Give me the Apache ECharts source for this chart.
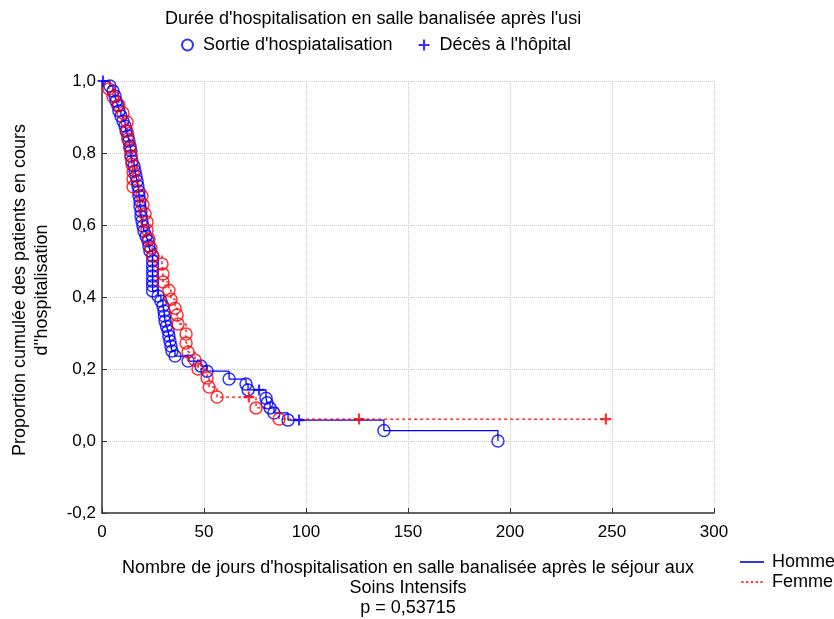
<!DOCTYPE html>
<html>
<head>
<meta charset="utf-8">
<script src="https://cdn.jsdelivr.net/npm/echarts@6/dist/echarts.min.js"></script>
<style>
  html, body { margin: 0; padding: 0; background: #fff; }
  #chart { width: 834px; height: 619px; }
</style>
</head>
<body>
<div id="chart"></div>
<script>
// jours, proportion cumulée
var hommeSorties = [
    [3.9, 0.986], [5.4, 0.972], [6.4, 0.958], [6.9, 0.944], [7.8, 0.931], [8.3, 0.917],
    [9.3, 0.903], [10.3, 0.889], [11.3, 0.875], [11.8, 0.861], [12.7, 0.847], [13.2, 0.833],
    [13.7, 0.819], [14.2, 0.806], [14.2, 0.792], [14.7, 0.778], [15.7, 0.764], [16.2, 0.75],
    [16.7, 0.736], [17.2, 0.722], [17.6, 0.708], [18.1, 0.694], [18.1, 0.681], [18.6, 0.667],
    [18.6, 0.653], [19.1, 0.639], [19.1, 0.625], [19.6, 0.611], [20.1, 0.597], [20.6, 0.583],
    [21.6, 0.569], [22.5, 0.556], [23, 0.542], [23.5, 0.528], [24.8, 0.514], [24.8, 0.5],
    [24.8, 0.486], [24.8, 0.472], [24.8, 0.458], [24.8, 0.444], [24.8, 0.431], [24.8, 0.417],
    [27.5, 0.403], [28.9, 0.389], [29.9, 0.375], [30.4, 0.361], [30.6, 0.347], [30.9, 0.333],
    [31.6, 0.319], [32.4, 0.306], [32.8, 0.292], [33.3, 0.278], [33.8, 0.264], [34.3, 0.25],
    [35.8, 0.236], [42.2, 0.222], [48.5, 0.208], [51.5, 0.194], [62.3, 0.172], [70.6, 0.158],
    [71.6, 0.142], [80.4, 0.119], [80.9, 0.106], [82.4, 0.092], [84.3, 0.078], [91.2, 0.058],
    [138.2, 0.029], [194.1, 0]
];
var hommeDeces = [[0.5, 1.0], [77, 0.142], [96.6, 0.058]];

var femmeSorties = [
    [3.4, 0.978], [5.4, 0.956], [8.3, 0.933], [10.3, 0.911], [12.3, 0.886], [12.3, 0.861],
    [12.7, 0.839], [13.7, 0.814], [14.2, 0.792], [14.7, 0.769], [15.2, 0.747], [15.2, 0.728],
    [15.2, 0.706], [19.6, 0.681], [20.1, 0.656], [21.1, 0.631], [22.1, 0.608], [22.1, 0.586],
    [23, 0.561], [24, 0.536], [25, 0.514], [29.4, 0.492], [29.9, 0.464], [29.9, 0.442],
    [32.8, 0.419], [33.8, 0.394], [35.8, 0.369], [36.8, 0.35], [37.3, 0.325], [41.2, 0.297],
    [41.2, 0.272], [42.2, 0.247], [45.6, 0.225], [47.1, 0.2], [51.5, 0.175], [52.5, 0.15],
    [56.4, 0.122], [75.5, 0.092], [86.8, 0.061]
];
var femmeDeces = [[72, 0.122], [126, 0.061], [247, 0.061]];

var xTicks = [0, 50, 100, 150, 200, 250, 300];
var yTicks = [-0.2, 0, 0.2, 0.4, 0.6, 0.8, 1.0];

var FONT = "'Liberation Sans', Arial, sans-serif";
var BLUE = '#0000ff';
var RED = '#ff0000';
var PLUS = 'path://M4,0H6V4H10V6H6V10H4V6H0V4H4Z';
var SOLID_ICON = 'path://M0,0H30V2H0Z';
var DOTTED_ICON = 'path://M0,0H3V2H0ZM6,0H9V2H6ZM12,0H15V2H12ZM18,0H21V2H18ZM24,0H27V2H24Z';

// step path: start at (0,1), then every event / censored point in time order
function stepLine(events, censored) {
    var pts = events.concat(censored).slice();
    pts.sort(function (a, b) { return a[0] - b[0] || b[1] - a[1]; });
    return [[0, 1]].concat(pts);
}

var chart = echarts.init(document.getElementById('chart'));

chart.setOption({
    animation: false,
    textStyle: { fontFamily: FONT },
    title: {
        text: "Durée d'hospitalisation en salle banalisée après l'usi",
        left: 160,
        top: 5,
        textStyle: { fontFamily: FONT, fontSize: 18, fontWeight: 'normal', color: '#000' }
    },
    legend: [{
        data: ["Sortie d'hospiatalisation", "Décès à l'hôpital"],
        left: 176,
        top: 31,
        itemWidth: 11,
        itemHeight: 11,
        itemGap: 26,
        textStyle: { fontFamily: FONT, fontSize: 18, color: '#000', padding: [0, 0, 0, 5] }
    }, {
        data: [
            { name: 'Homme', icon: SOLID_ICON, itemStyle: { color: BLUE } },
            { name: 'Femme', icon: DOTTED_ICON, itemStyle: { color: RED } }
        ],
        orient: 'vertical',
        left: 735,
        top: 548,
        itemWidth: 30,
        itemHeight: 1.6,
        itemGap: 2,
        textStyle: { fontFamily: FONT, fontSize: 18, color: '#000' }
    }],
    grid: { left: 102, right: 120, top: 81, bottom: 106, containLabel: false, outerBoundsMode: 'none' },
    xAxis: {
        type: 'value',
        min: xTicks[0],
        max: xTicks[xTicks.length - 1],
        interval: 50,
        name: "Nombre de jours d'hospitalisation en salle banalisée après le séjour aux\nSoins Intensifs\np = 0,53715",
        nameLocation: 'middle',
        nameGap: 45,
        nameTextStyle: { fontFamily: FONT, fontSize: 18, color: '#000', lineHeight: 20 },
        axisLine: { onZero: false, lineStyle: { color: '#333', width: 1.5 } },
        axisTick: { inside: true, length: 5, lineStyle: { color: '#333' } },
        axisLabel: { fontFamily: FONT, fontSize: 17, color: '#000', margin: 11 },
        splitLine: { show: true, lineStyle: { color: '#c8c8c8', type: 'dotted' } }
    },
    yAxis: {
        type: 'value',
        min: yTicks[0],
        max: yTicks[yTicks.length - 1],
        interval: 0.2,
        name: "Proportion cumulée des patients en cours\nd''hospitalisation",
        nameLocation: 'middle',
        nameGap: 49,
        nameTextStyle: { fontFamily: FONT, fontSize: 18, color: '#000', lineHeight: 22, padding: [0, 0, 0, 14] },
        axisLine: { show: true, onZero: false, lineStyle: { color: '#333', width: 1.5 } },
        axisTick: { show: true, inside: true, length: 5, lineStyle: { color: '#333' } },
        axisLabel: {
            fontFamily: FONT, fontSize: 17, color: '#000', margin: 6,
            formatter: function (v) {
                var r = Math.round(v * 10) / 10;
                if (Math.abs(r) < 1e-9) r = 0;
                return r.toFixed(1).replace('.', ',');
            }
        },
        splitLine: { show: true, lineStyle: { color: '#c8c8c8', type: 'dotted' } }
    },
    series: [{
        name: 'Homme',
        type: 'line',
        step: 'end',
        symbol: 'none',
        data: stepLine(hommeSorties, hommeDeces),
        lineStyle: { color: BLUE, width: 1.3 },
        itemStyle: { color: BLUE },
        z: 2
    }, {
        name: 'Femme',
        type: 'line',
        step: 'end',
        symbol: 'none',
        data: stepLine(femmeSorties, femmeDeces),
        lineStyle: { color: RED, width: 1.3, type: [3, 3] },
        itemStyle: { color: RED },
        z: 2
    }, {
        name: "Sortie d'hospiatalisation",
        type: 'scatter',
        data: hommeSorties,
        symbol: 'circle',
        symbolSize: 12,
        itemStyle: { color: 'rgba(255,255,255,0)', borderColor: BLUE, borderWidth: 1.5 },
        z: 3
    }, {
        name: "Sortie d'hospiatalisation",
        type: 'scatter',
        data: femmeSorties,
        symbol: 'circle',
        symbolSize: 12,
        itemStyle: { color: 'rgba(255,255,255,0)', borderColor: RED, borderWidth: 1.5 },
        z: 4
    }, {
        name: "Décès à l'hôpital",
        type: 'scatter',
        data: hommeDeces,
        symbol: PLUS,
        symbolSize: 11,
        itemStyle: { color: BLUE },
        z: 5
    }, {
        name: "Décès à l'hôpital",
        type: 'scatter',
        data: femmeDeces,
        symbol: PLUS,
        symbolSize: 11,
        itemStyle: { color: RED },
        z: 5
    }]
});
</script>
</body>
</html>
